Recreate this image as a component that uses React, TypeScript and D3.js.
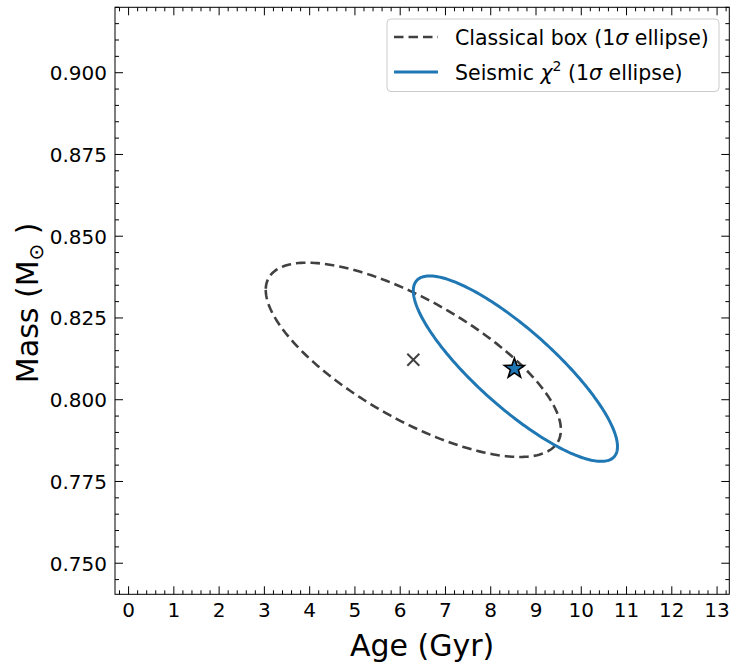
import React from "react";
import * as d3 from "d3";

const xTicks = [0, 1, 2, 3, 4, 5, 6, 7, 8, 9, 10, 11, 12, 13];
const yTicks = [0.75, 0.775, 0.8, 0.825, 0.85, 0.875, 0.9];
const xDomain = [-0.3, 13.27];
const yDomain = [0.7405, 0.92];

// Classical box 1-sigma ellipse: center (age, mass), sigmas, correlation
const classicalCenter = [6.29, 0.8122];
const classicalSigma = [3.26, 0.0297];
const classicalRho = -0.72;

// Seismic chi^2 1-sigma ellipse
const seismicCenter = [8.545, 0.8095];
const seismicSigma = [2.255, 0.02835];
const seismicRho = -0.84;

const W = 731;
const H = 663;
const L = 115, R = 729.3, T = 7.3, B = 594.3;

function ellipsePoints(c: number[], s: number[], rho: number): [number, number][] {
  const pts: [number, number][] = [];
  const n = 240;
  const k = Math.sqrt(1 - rho * rho);
  for (let i = 0; i <= n; i++) {
    const t = (i / n) * 2 * Math.PI + Math.PI;
    pts.push([c[0] + s[0] * Math.cos(t), c[1] + s[1] * (rho * Math.cos(t) + k * Math.sin(t))]);
  }
  return pts;
}

function starPath(cx: number, cy: number, ro: number, ri: number) {
  const p: string[] = [];
  for (let i = 0; i < 10; i++) {
    const a = -Math.PI / 2 + (i * Math.PI) / 5;
    const r = i % 2 === 0 ? ro : ri;
    p.push(`${i === 0 ? "M" : "L"}${cx + r * Math.cos(a)},${cy + r * Math.sin(a)}`);
  }
  return p.join("") + "Z";
}

export default function App() {
  const x = d3.scaleLinear().domain(xDomain).range([L, R]);
  const y = d3.scaleLinear().domain(yDomain).range([B, T]);
  const line = d3.line<[number, number]>().x((d) => x(d[0])).y((d) => y(d[1]));

  const xMinor = d3.range(-0.2, 13.3, 0.2).filter((v) => Math.abs(v - Math.round(v)) > 1e-6 && v >= xDomain[0] && v <= xDomain[1]);
  const yMinor = d3.range(0.745, 0.92, 0.005).filter((v) => Math.abs(v / 0.025 - Math.round(v / 0.025)) > 1e-6 && v >= yDomain[0] && v <= yDomain[1]);

  const font = "DejaVu Sans";
  const dark = "#404040";
  const blue = "#1f77b4";
  const maj = 8, mnr = 4;

  return (
    <svg width={W} height={H} style={{ position: "absolute", left: 0, top: 0, background: "white" }} fontFamily={font}>
      <rect x={0} y={0} width={W} height={H} fill="white" />
      {/* ellipses */}
      <path d={line(ellipsePoints(classicalCenter, classicalSigma, classicalRho)) || ""} fill="none" stroke={dark} strokeWidth={2.6} strokeDasharray="9.5,5" />
      <path d={line(ellipsePoints(seismicCenter, seismicSigma, seismicRho)) || ""} fill="none" stroke={blue} strokeWidth={3} />
      {/* x marker */}
      <g stroke={dark} strokeWidth={2}>
        <line x1={x(classicalCenter[0]) - 6} y1={y(classicalCenter[1]) - 6} x2={x(classicalCenter[0]) + 6} y2={y(classicalCenter[1]) + 6} />
        <line x1={x(classicalCenter[0]) - 6} y1={y(classicalCenter[1]) + 6} x2={x(classicalCenter[0]) + 6} y2={y(classicalCenter[1]) - 6} />
      </g>
      {/* star */}
      <path d={starPath(x(seismicCenter[0]) - 1, y(seismicCenter[1]), 10.5, 4.2)} fill={blue} stroke="black" strokeWidth={1.6} strokeLinejoin="miter" />

      {/* ticks */}
      <g stroke="black" strokeWidth={1}>
        {xTicks.map((t) => (
          <g key={"xt" + t}>
            <line x1={x(t)} x2={x(t)} y1={B} y2={B - maj} />
            <line x1={x(t)} x2={x(t)} y1={T} y2={T + maj} />
          </g>
        ))}
        {xMinor.map((t, i) => (
          <g key={"xm" + i}>
            <line x1={x(t)} x2={x(t)} y1={B} y2={B - mnr} />
            <line x1={x(t)} x2={x(t)} y1={T} y2={T + mnr} />
          </g>
        ))}
        {yTicks.map((t) => (
          <g key={"yt" + t}>
            <line x1={L} x2={L + maj} y1={y(t)} y2={y(t)} />
            <line x1={R} x2={R - maj} y1={y(t)} y2={y(t)} />
          </g>
        ))}
        {yMinor.map((t, i) => (
          <g key={"ym" + i}>
            <line x1={L} x2={L + mnr} y1={y(t)} y2={y(t)} />
            <line x1={R} x2={R - mnr} y1={y(t)} y2={y(t)} />
          </g>
        ))}
      </g>
      <rect x={L} y={T} width={R - L} height={B - T} fill="none" stroke="black" strokeWidth={1} />

      {/* tick labels */}
      <g fontSize={20} fill="black">
        {xTicks.map((t) => (
          <text key={"xl" + t} x={x(t)} y={B + 22.5} textAnchor="middle">{t}</text>
        ))}
        {yTicks.map((t) => (
          <text key={"yl" + t} x={L - 8} y={y(t) + 7.3} textAnchor="end">{t.toFixed(3)}</text>
        ))}
      </g>

      {/* axis labels */}
      <text x={(L + R) / 2} y={656} textAnchor="middle" fontSize={30}>Age (Gyr)</text>
      <text transform={`translate(38,${(T + B) / 2 + 2}) rotate(-90)`} textAnchor="middle" fontSize={30}>
        Mass (M<tspan fontSize={20} dy={5}>⊙</tspan><tspan dy={-5}> )</tspan>
      </text>

      {/* legend */}
      <g>
        <rect x={387} y={19} width={332} height={72.5} rx={4} fill="white" fillOpacity={0.8} stroke="#cccccc" strokeWidth={1} />
        <line x1={394} x2={438} y1={37} y2={37} stroke={dark} strokeWidth={2.6} strokeDasharray="9.5,5" />
        <line x1={394} x2={438} y1={72} y2={72} stroke={blue} strokeWidth={3} />
        <text x={455} y={44.5} fontSize={20.5}>
          Classical box (1<tspan fontStyle="italic">σ</tspan> ellipse)
        </text>
        <text x={455} y={79.5} fontSize={20.5}>
          Seismic <tspan fontStyle="italic">χ</tspan><tspan fontSize={14} dy={-9}>2</tspan><tspan dy={9}> (1</tspan><tspan fontStyle="italic">σ</tspan> ellipse)
        </text>
      </g>
    </svg>
  );
}
